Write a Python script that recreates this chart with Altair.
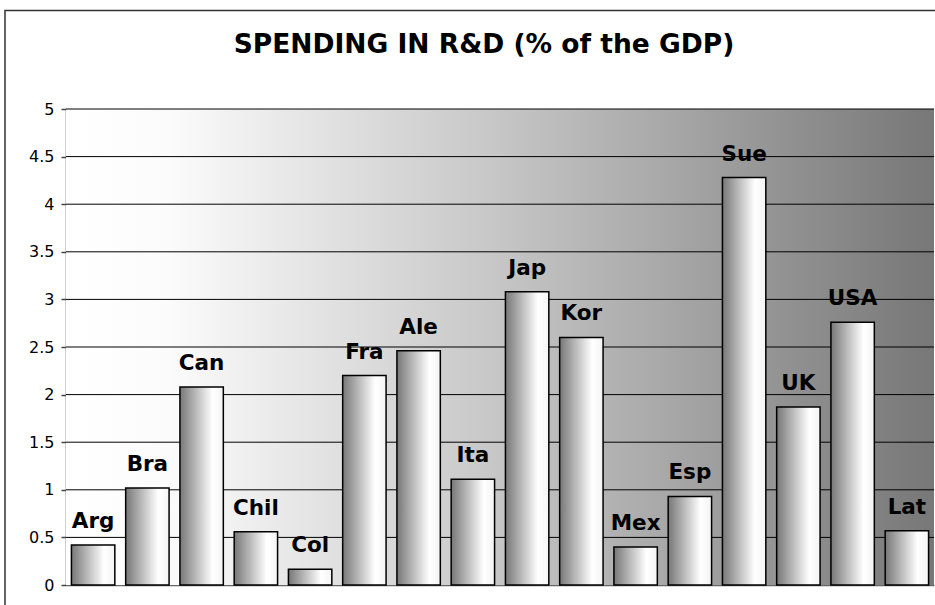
import altair as alt
import pandas as pd

categories = ["Arg", "Bra", "Can", "Chil", "Col", "Fra", "Ale", "Ita", "Jap",
              "Kor", "Mex", "Esp", "Sue", "UK", "USA", "Lat"]
values = [0.42, 1.02, 2.08, 0.56, 0.165, 2.20, 2.46, 1.11, 3.08,
          2.60, 0.40, 0.93, 4.28, 1.87, 2.76, 0.57]
y_ticks = [0, 0.5, 1, 1.5, 2, 2.5, 3, 3.5, 4, 4.5, 5]
title_text = "SPENDING IN R&D (% of the GDP)"

W, H = 868, 476
FONT = "DejaVu Sans"

df = pd.DataFrame({"country": categories, "value": values})
grid_df = pd.DataFrame({"v": y_ticks[1:]})
one = pd.DataFrame({"k": [0]})
title_df = pd.DataFrame({"t": [title_text]})

yscale = alt.Scale(domain=[0, 5], nice=False, zero=True)
xscale = alt.Scale(paddingInner=0.2, paddingOuter=0.1)

yaxis = alt.Axis(title=None, values=y_ticks, format=".1~f", grid=False,
                 domainColor="#444444", domainWidth=1.5,
                 tickColor="#444444", tickSize=5, tickWidth=1.5,
                 labelFont=FONT, labelFontSize=16, labelColor="#000000",
                 labelPadding=7)

bg_grad = alt.LinearGradient(
    gradient="linear", x1=0, x2=1, y1=0, y2=0,
    stops=[alt.GradientStop(color="#ffffff", offset=0),
           alt.GradientStop(color="#fbfbfb", offset=0.12),
           alt.GradientStop(color="#c6c6c6", offset=0.5),
           alt.GradientStop(color="#777777", offset=1)])

bar_grad = alt.LinearGradient(
    gradient="linear", x1=0, x2=1, y1=0, y2=0,
    stops=[alt.GradientStop(color="#777777", offset=0),
           alt.GradientStop(color="#ffffff", offset=0.75),
           alt.GradientStop(color="#f4f4f4", offset=1)])

frame = alt.Chart(one).mark_rect(fillOpacity=0, stroke="#333333", strokeWidth=1.5).encode(
    x=alt.value(-61), x2=alt.value(W + 40), y=alt.value(-98.5), y2=alt.value(H + 40))

background = alt.Chart(one).mark_rect(color=bg_grad).encode(
    x=alt.value(0), x2=alt.value(W), y=alt.value(0), y2=alt.value(H))

grid = alt.Chart(grid_df).mark_rule(color="#000000", strokeWidth=1).encode(
    y=alt.Y("v:Q", scale=yscale, axis=yaxis))

bars = alt.Chart(df).mark_bar(color=bar_grad, stroke="#000000", strokeWidth=1.5).encode(
    x=alt.X("country:N", sort=categories, scale=xscale,
            axis=alt.Axis(title=None, labels=False, ticks=False, domain=True,
                          domainColor="#666666", domainWidth=1.5, grid=False)),
    y=alt.Y("value:Q", scale=yscale, axis=yaxis))

labels = alt.Chart(df).mark_text(
    font=FONT, fontSize=21.5, fontWeight="bold", color="#000000",
    baseline="alphabetic", align="center", dy=-17).encode(
    x=alt.X("country:N", sort=categories, scale=xscale),
    y=alt.Y("value:Q", scale=yscale),
    text="country:N")

title = alt.Chart(title_df).mark_text(
    font=FONT, fontSize=26.5, fontWeight="bold", color="#000000",
    baseline="alphabetic", align="center").encode(
    x=alt.value(W / 2 - 16), y=alt.value(-56), text="t:N")

chart = alt.layer(frame, background, grid, bars, labels, title).properties(
    width=W, height=H,
    autosize=alt.AutoSizeParams(type="none"),
    padding={"left": 66, "top": 109, "right": 1, "bottom": 20},
).configure_view(stroke=None).configure_axisY(labelFontSize=16, labelFont=FONT)

chart.save("out.html", embed_options={"renderer": "svg", "actions": False})
